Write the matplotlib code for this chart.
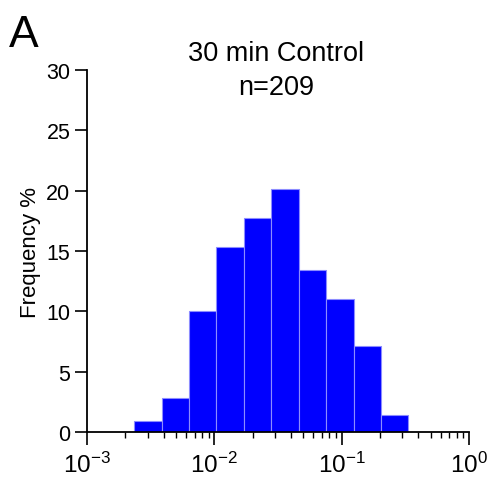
import numpy as np
import matplotlib
matplotlib.use("Agg")
import matplotlib.pyplot as plt

plt.rcParams['font.family'] = ['Liberation Sans', 'DejaVu Sans']
plt.rcParams['mathtext.fontset'] = 'custom'
plt.rcParams['mathtext.rm'] = 'Liberation Sans'
plt.rcParams['mathtext.it'] = 'Liberation Sans:italic'
plt.rcParams['mathtext.bf'] = 'Liberation Sans:bold'
plt.rcParams['mathtext.default'] = 'rm'

# bin edges (log10) and counts
log_edges = [-2.630, -2.414, -2.199, -1.983, -1.768, -1.553,
             -1.337, -1.122, -0.906, -0.691, -0.476]
counts = [2, 6, 21, 32, 37, 42, 28, 23, 15, 3]
n_total = 209

xtick_vals = [1e-3, 1e-2, 1e-1, 1]
xtick_labels = [r'$10^{-3}$', r'$10^{-2}$', r'$10^{-1}$', r'$10^{0}$']
ytick_vals = [0, 5, 10, 15, 20, 25, 30]

edges = 10 ** np.array(log_edges)
freq = np.array(counts) / n_total * 100

fig = plt.figure(figsize=(4.88, 4.85), dpi=100)
ax = fig.add_axes([0.1783, 0.1066, 0.7827, 0.7476])

ax.bar(edges[:-1], freq, width=np.diff(edges), align='edge',
       color='#0000ff', edgecolor='#8c8cff', linewidth=0.8)

ax.set_xscale('log')
ax.set_xlim(1e-3, 1)
ax.set_ylim(0, 30)
ax.set_yticks(ytick_vals)
ax.set_xticks(xtick_vals)
ax.set_xticklabels(xtick_labels)

for s in ['top', 'right']:
    ax.spines[s].set_visible(False)
for s in ['left', 'bottom']:
    ax.spines[s].set_linewidth(1.3)

ax.tick_params(axis='both', which='major', direction='out', length=9,
               width=1.2, labelsize=15.5, pad=3)
ax.tick_params(axis='x', which='minor', direction='out', length=4.5, width=1.0)
ax.tick_params(axis='x', which='major', labelsize=17.5, pad=5)

ax.set_ylabel('Frequency %', fontsize=16, labelpad=4)

ax.text(0.495, 1.0, '30 min Control\nn=209', transform=ax.transAxes,
        ha='center', va='center', fontsize=19.5, linespacing=1.4)
fig.text(0.018, 0.97, 'A', fontsize=32, ha='left', va='top')

fig.savefig('out.png', dpi=100)
